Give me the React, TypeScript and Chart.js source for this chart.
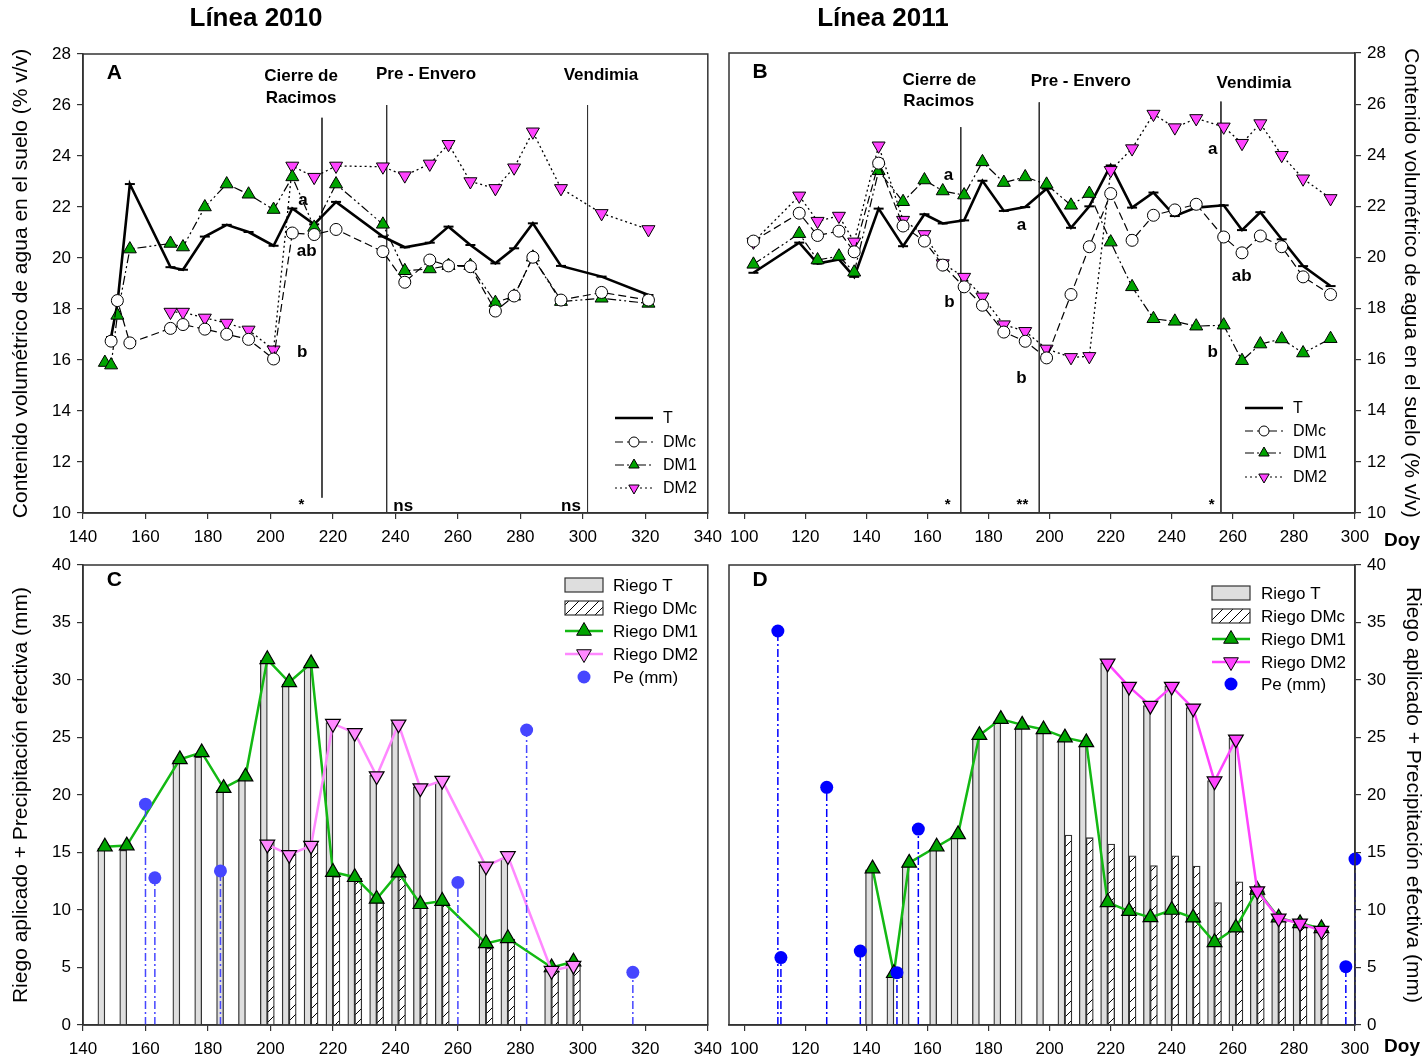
import React, { useEffect, useRef } from "react";
import { Chart, registerables } from "chart.js";

Chart.register(...registerables);

const FONT = '"Liberation Sans", Arial, Helvetica, sans-serif';

// ---------- Panel A: Línea 2010, soil water content (% v/v) ----------
const aTDays = [149, 151, 155, 168, 172, 179, 186, 193, 201, 207, 214, 221, 236, 243, 251, 257, 264, 272, 278, 284, 293, 306, 321];
const aTVals = [16.9, 18.2, 22.9, 19.64, 19.54, 20.84, 21.3, 21.02, 20.48, 21.94, 21.32, 22.2, 20.84, 20.42, 20.6, 21.23, 20.51, 19.79, 20.38, 21.36, 19.69, 19.27, 18.55];
const aDMcDays = [149, 151, 155, 168, 172, 179, 186, 193, 201, 207, 214, 221, 236, 243, 251, 257, 264, 272, 278, 284, 293, 306, 321];
const aDMcVals = [16.74, 18.33, 16.67, 17.24, 17.39, 17.21, 17.01, 16.81, 16.04, 20.98, 20.92, 21.12, 20.25, 19.05, 19.92, 19.69, 19.66, 17.92, 18.51, 20.03, 18.35, 18.65, 18.35];
const aDM1Days = [147, 149, 151, 155, 168, 172, 179, 186, 193, 201, 207, 214, 221, 236, 243, 251, 257, 264, 272, 278, 284, 293, 306, 321];
const aDM1Vals = [15.9, 15.8, 17.75, 20.35, 20.57, 20.43, 22.0, 22.9, 22.5, 21.9, 23.18, 21.2, 22.9, 21.32, 19.5, 19.57, 19.7, 19.7, 18.25, 18.5, 20.03, 18.29, 18.42, 18.22];
const aDM2Days = [168, 172, 179, 186, 193, 201, 207, 214, 221, 236, 243, 251, 257, 264, 272, 278, 284, 293, 306, 321];
const aDM2Vals = [17.88, 17.88, 17.65, 17.45, 17.18, 16.4, 23.61, 23.17, 23.61, 23.58, 23.23, 23.69, 24.46, 23.0, 22.73, 23.54, 24.95, 22.73, 21.75, 21.12];
const aPhaseDays = [216.5, 237.2, 301.5];
const aPhaseTops = [25.5, 26.0, 26.0];
const aPhaseBottoms = [10.6, 10, 10];

// ---------- Panel B: Línea 2011, soil water content (% v/v) ----------
const bDays = [103, 118, 124, 131, 136, 144, 152, 159, 165, 172, 178, 185, 192, 199, 207, 213, 220, 227, 234, 241, 248, 257, 263, 269, 276, 283, 292];
const bTVals = [19.4, 20.58, 19.76, 19.92, 19.24, 21.91, 20.44, 21.69, 21.33, 21.45, 23.0, 21.82, 21.97, 22.69, 21.16, 22.0, 23.6, 21.95, 22.54, 21.62, 21.95, 22.04, 21.07, 21.77, 20.71, 19.66, 18.88];
const bDMcVals = [20.64, 21.73, 20.86, 21.03, 20.22, 23.69, 21.23, 20.64, 19.7, 18.85, 18.13, 17.08, 16.72, 16.07, 18.55, 20.42, 22.5, 20.67, 21.65, 21.86, 22.08, 20.8, 20.18, 20.84, 20.42, 19.24, 18.55];
const bDM1Vals = [19.73, 20.93, 19.9, 20.05, 19.42, 23.39, 22.18, 23.03, 22.6, 22.44, 23.74, 22.93, 23.15, 22.86, 22.04, 22.5, 20.6, 18.85, 17.6, 17.5, 17.31, 17.35, 15.96, 16.61, 16.81, 16.26, 16.82];
const bDM2Vals = [20.61, 22.41, 21.42, 21.62, 20.61, 24.37, 21.46, 20.9, 19.76, 19.23, 18.46, 17.37, 17.11, 16.42, 16.09, 16.13, 23.41, 24.26, 25.61, 25.08, 25.44, 25.11, 24.47, 25.24, 24.0, 23.08, 22.31];
const bPhaseDays = [170.9, 196.6, 256.1];
const bPhaseTops = [25.1, 26.07, 26.1];
const bPhaseBottoms = [10, 10, 10];

// ---------- Panel C: Línea 2010, irrigation + effective rain (mm) ----------
const cDays = [147, 154, 171, 178, 185, 192, 199, 206, 213, 220, 227, 234, 241, 248, 255, 269, 276, 290, 297];
const cRiegoT = [15.36, 15.2, 23.0, 23.3, 20.4, 21.4, 31.7, 29.65, 31.25, 26.3, 25.57, 21.7, 26.3, 20.7, 21.1, 13.9, 14.5, 4.8, 5.2];
const cRiegoDM1 = [15.5, 15.6, 23.1, 23.7, 20.6, 21.6, 31.8, 29.8, 31.45, 13.3, 12.85, 10.96, 13.25, 10.5, 10.78, 7.1, 7.54, 5.0, 5.5];
const cLateDays = [199, 206, 213, 220, 227, 234, 241, 248, 255, 269, 276, 290, 297];
const cRiegoDMc = [15.9, 14.9, 15.7, 12.9, 12.75, 10.8, 13.1, 10.2, 10.6, 6.67, 7.48, 4.8, 5.3];
const cRiegoDM2 = [15.7, 14.8, 15.6, 26.2, 25.4, 21.65, 26.15, 20.6, 21.25, 13.8, 14.7, 4.72, 5.16];
const cPeDays = [160, 163, 184, 260, 282, 316];
const cPeVals = [19.2, 12.8, 13.4, 12.4, 25.65, 4.58];

// ---------- Panel D: Línea 2011, irrigation + effective rain (mm) ----------
const dDays = [142, 149, 154, 163, 170, 177, 184, 191, 198, 205, 212, 219, 226, 233, 240, 247, 254, 261, 268, 275, 282, 289];
const dRiegoT = [13.5, 4.3, 13.8, 15.3, 16.4, 24.9, 26.4, 25.8, 25.4, 24.7, 24.26, 31.5, 29.65, 27.77, 29.5, 27.6, 21.25, 24.93, 11.74, 9.2, 8.78, 8.35];
const dRiegoDM1 = [13.6, 4.5, 14.1, 15.5, 16.58, 25.2, 26.6, 26.1, 25.7, 24.99, 24.58, 10.67, 9.9, 9.36, 10.0, 9.33, 7.19, 8.46, 11.74, 9.33, 8.84, 8.4];
const dDMcDays = [205, 212, 219, 226, 233, 240, 247, 254, 261, 268, 275, 282, 289];
const dRiegoDMc = [16.52, 16.29, 15.74, 14.72, 13.86, 14.72, 13.83, 10.64, 12.46, 11.68, 9.2, 8.7, 8.26];
const dDM2Days = [219, 226, 233, 240, 247, 254, 261, 268, 275, 282, 289];
const dRiegoDM2 = [31.45, 29.42, 27.77, 29.42, 27.54, 21.2, 24.84, 11.65, 9.28, 8.84, 8.2];
const dPeDays = [111, 112, 127, 138, 150, 157, 297, 300];
const dPeVals = [34.26, 5.86, 20.67, 6.43, 4.55, 17.04, 5.07, 14.43];

// ---------- Axis ticks ----------
const ticksDoy2010 = [140, 160, 180, 200, 220, 240, 260, 280, 300, 320, 340];
const ticksDoy2011 = [100, 120, 140, 160, 180, 200, 220, 240, 260, 280, 300];
const ticksSoil = [10, 12, 14, 16, 18, 20, 22, 24, 26, 28];
const ticksMm = [0, 5, 10, 15, 20, 25, 30, 35, 40];

// ---------- Labels drawn on the panels (day, value, text) ----------
const aLabelDays = [150, 209.8, 209.8, 249.8, 305.8, 210.4, 211.6, 210.2, 209.9, 242.5, 296.2];
const aLabelVals = [27.25, 27.14, 26.27, 27.2, 27.18, 22.27, 20.27, 16.31, 10.3, 10.27, 10.27];
const aLabelTexts = ["A", "Cierre de", "Racimos", "Pre - Envero", "Vendimia", "a", "ab", "b", "*", "ns", "ns"];
const bLabelDays = [105.2, 163.9, 163.7, 210.2, 266.9, 166.9, 190.8, 167.2, 190.8, 253.4, 262.9, 253.4, 166.6, 191.1, 253.1];
const bLabelVals = [27.26, 26.94, 26.12, 26.9, 26.83, 23.22, 21.27, 18.25, 15.28, 24.24, 19.27, 16.3, 10.3, 10.3, 10.3];
const bLabelTexts = ["B", "Cierre de", "Racimos", "Pre - Envero", "Vendimia", "a", "a", "b", "b", "a", "ab", "b", "*", "**", "*"];

const GREEN_MARK = "#00a400";
const GREEN_LINE = "#13b913";
const PINK_C = "#ff88ff";
const PINK_D = "#ff44ff";
const MAGENTA = "#ff44ff";
const BLUE_C = "#4646ff";
const BLUE_D = "#0000ff";

type Pt = { x: number; y: number | null };
const pts = (days: number[], vals: number[]): Pt[] => days.map((d, i) => ({ x: d, y: vals[i] }));
const stems = (days: number[], vals: number[]): Pt[] => {
  const out: Pt[] = [];
  days.forEach((d, i) => {
    out.push({ x: d, y: 0 }, { x: d, y: vals[i] }, { x: d, y: null });
  });
  return out;
};
const vline = (day: number, top: number, bottom: number): Pt[] => [
  { x: day, y: top },
  { x: day, y: bottom },
];

// ---------- Decorations: frame, text labels, legend ----------
type TextItem = { x: number; y: number; text: string; size: number; bold: boolean; abs?: boolean };
type LegendItem = {
  label: string;
  box?: string | CanvasPattern;
  line?: { color: string; width: number; dash: number[] };
  marker?: { kind: "circle" | "up" | "down"; r: number; fill: string; stroke: string | null };
};
type LegendSpec = { sx: number; sw: number; tx: number; rows: number[]; size: number; items: LegendItem[] };

function drawMarker(ctx: CanvasRenderingContext2D, m: NonNullable<LegendItem["marker"]>, x: number, y: number) {
  ctx.save();
  ctx.setLineDash([]);
  ctx.fillStyle = m.fill;
  ctx.beginPath();
  if (m.kind === "circle") {
    ctx.arc(x, y, m.r, 0, Math.PI * 2);
  } else {
    const s = m.kind === "down" ? -1 : 1;
    for (let k = 0; k < 3; k++) {
      const a = (k * 2 * Math.PI) / 3;
      const px = x + Math.sin(a) * m.r;
      const py = y - s * Math.cos(a) * m.r;
      if (k === 0) ctx.moveTo(px, py);
      else ctx.lineTo(px, py);
    }
    ctx.closePath();
  }
  ctx.fill();
  if (m.stroke) {
    ctx.strokeStyle = m.stroke;
    ctx.lineWidth = 1;
    ctx.stroke();
  }
  ctx.restore();
}

function makeDecor(texts: TextItem[], legend: LegendSpec) {
  return {
    id: "decor",
    afterDraw(chart: any) {
      const { ctx, chartArea } = chart;
      const xs = chart.scales.x;
      const ys = chart.scales.y;
      ctx.save();
      ctx.strokeStyle = "#333";
      ctx.lineWidth = 1.5;
      ctx.setLineDash([]);
      ctx.strokeRect(chartArea.left, chartArea.top, chartArea.right - chartArea.left, chartArea.bottom - chartArea.top);

      ctx.fillStyle = "#000";
      ctx.textAlign = "center";
      ctx.textBaseline = "middle";
      for (const t of texts) {
        ctx.font = `${t.bold ? "bold " : ""}${t.size}px ${FONT}`;
        const px = t.abs ? t.x : xs.getPixelForValue(t.x);
        const py = t.abs ? t.y : ys.getPixelForValue(t.y);
        ctx.fillText(t.text, px, py);
      }

      ctx.textAlign = "left";
      ctx.font = `${legend.size}px ${FONT}`;
      legend.items.forEach((it, i) => {
        const y = legend.rows[i];
        const { sx, sw } = legend;
        if (it.box) {
          ctx.fillStyle = it.box as any;
          ctx.fillRect(sx, y - 7, sw, 14);
          ctx.strokeStyle = "#333";
          ctx.lineWidth = 1.2;
          ctx.setLineDash([]);
          ctx.strokeRect(sx, y - 7, sw, 14);
        }
        if (it.line) {
          ctx.strokeStyle = it.line.color;
          ctx.lineWidth = it.line.width;
          ctx.setLineDash(it.line.dash);
          ctx.beginPath();
          ctx.moveTo(sx, y);
          ctx.lineTo(sx + sw, y);
          ctx.stroke();
          ctx.setLineDash([]);
        }
        if (it.marker) drawMarker(ctx, it.marker, sx + sw / 2, y);
        ctx.fillStyle = "#000";
        ctx.fillText(it.label, legend.tx, y + 1);
      });
      ctx.restore();
    },
  };
}

function toTexts(days: number[], vals: number[], labels: string[]): TextItem[] {
  return labels.map((text, i) => {
    const isPanel = /^[A-D]$/.test(text);
    const isStar = text.startsWith("*");
    return {
      x: days[i],
      y: vals[i],
      text,
      size: isPanel ? 21 : isStar ? 15 : 17,
      bold: true,
    };
  });
}

function hatchPattern(ctx: CanvasRenderingContext2D): CanvasPattern {
  const c = document.createElement("canvas");
  c.width = 10;
  c.height = 10;
  const g = c.getContext("2d")!;
  g.fillStyle = "#fff";
  g.fillRect(0, 0, 10, 10);
  g.strokeStyle = "#000";
  g.lineWidth = 1;
  g.beginPath();
  g.moveTo(0, 10);
  g.lineTo(10, 0);
  g.moveTo(-1, 1);
  g.lineTo(1, -1);
  g.moveTo(9, 11);
  g.lineTo(11, 9);
  g.stroke();
  return ctx.createPattern(c, "repeat")!;
}

const tickFont = { family: FONT, size: 17 };
const axisBase = {
  grid: { drawOnChartArea: false, tickLength: 6, color: "#333", lineWidth: 1.2 },
  border: { color: "#333", width: 1.5 },
};

function xAxis(min: number, max: number, ticks: number[], height: number) {
  return {
    type: "linear",
    min,
    max,
    offset: false,
    afterBuildTicks: (s: any) => {
      s.ticks = ticks.map((v) => ({ value: v }));
    },
    afterFit: (s: any) => {
      s.height = height;
    },
    ticks: { font: tickFont, color: "#000", padding: 8, maxRotation: 0, autoSkip: false },
    ...axisBase,
    grid: { ...axisBase.grid, offset: false },
  };
}

function yAxis(min: number, max: number, ticks: number[], right: boolean, width: number, title: string, titlePad: number) {
  return {
    type: "linear",
    position: right ? "right" : "left",
    min,
    max,
    afterBuildTicks: (s: any) => {
      s.ticks = ticks.map((v) => ({ value: v }));
    },
    afterFit: (s: any) => {
      s.width = width;
    },
    ticks: { font: tickFont, color: "#000", padding: 6, autoSkip: false },
    title: {
      display: true,
      text: title,
      color: "#000",
      font: { family: FONT, size: 21 },
      padding: { top: titlePad, bottom: 0 },
    },
    ...axisBase,
  };
}

const SOIL_TITLE = "Contenido volumétrico de agua en el suelo (% v/v)";
const MM_TITLE = "Riego aplicado + Precipitación efectiva (mm)";

function soilLegend(sx: number, tx: number, rows: number[]): LegendSpec {
  return {
    sx,
    sw: 38,
    tx,
    rows,
    size: 16,
    items: [
      { label: "T", line: { color: "#000", width: 2.5, dash: [] } },
      { label: "DMc", line: { color: "#000", width: 1.2, dash: [8, 4] }, marker: { kind: "circle", r: 5, fill: "#fff", stroke: "#000" } },
      { label: "DM1", line: { color: "#000", width: 1.2, dash: [9, 3, 2, 3, 2, 3] }, marker: { kind: "up", r: 6, fill: GREEN_MARK, stroke: "#000" } },
      { label: "DM2", line: { color: "#000", width: 1.2, dash: [2, 3] }, marker: { kind: "down", r: 6, fill: MAGENTA, stroke: "#000" } },
    ],
  };
}

function soilDatasets(t: Pt[], dmc: Pt[], dm1: Pt[], dm2: Pt[], phases: Pt[][]) {
  const common = { tension: 0, pointBorderColor: "#000", pointBorderWidth: 1, borderColor: "#000", clip: false };
  return [
    { ...common, label: "DMc", data: dmc, borderWidth: 1.2, borderDash: [8, 4], pointStyle: "circle", pointRadius: 6, pointBackgroundColor: "#fff" },
    { ...common, label: "DM1", data: dm1, borderWidth: 1.2, borderDash: [9, 3, 2, 3, 2, 3], pointStyle: "triangle", pointRadius: 7.5, pointBackgroundColor: GREEN_MARK },
    { ...common, label: "DM2", data: dm2, borderWidth: 1.3, borderDash: [2, 3], pointStyle: "triangle", pointRotation: 180, pointRadius: 7.5, pointBackgroundColor: MAGENTA },
    { ...common, label: "T", data: t, borderWidth: 2.6, pointStyle: "line", pointRadius: 5, pointBorderWidth: 2 },
    ...phases.map((p, i) => ({ label: `fase ${i + 1}`, data: p, borderColor: "#333", borderWidth: 1, pointRadius: 0 })),
  ];
}

function soilConfig(opts: {
  xMin: number; xMax: number; xTicks: number[]; right: boolean; padLeft: number; padRight: number; padTop: number;
  yWidth: number; titlePad: number; datasets: any[]; decor: any;
}) {
  return {
    type: "line",
    data: { datasets: opts.datasets },
    options: {
      responsive: false,
      animation: false,
      events: [],
      layout: { padding: { left: opts.padLeft, right: opts.padRight, top: opts.padTop, bottom: 0 } },
      plugins: { legend: { display: false }, tooltip: { enabled: false } },
      scales: {
        x: xAxis(opts.xMin, opts.xMax, opts.xTicks, 42),
        y: yAxis(10, 28, ticksSoil, opts.right, opts.yWidth, SOIL_TITLE, opts.titlePad),
      },
    },
    plugins: [opts.decor],
  };
}

function riegoConfig(opts: {
  xMin: number; xMax: number; xTicks: number[]; right: boolean; padLeft: number; padRight: number;
  yWidth: number; titlePad: number; pink: string; blue: string;
  tDays: number[]; tVals: number[]; dmcDays: number[]; dmcVals: number[];
  dm1Days: number[]; dm1Vals: number[]; dm2Days: number[]; dm2Vals: number[];
  peDays: number[]; peVals: number[]; hatch: CanvasPattern; decor: any;
}) {
  return {
    type: "bar",
    data: {
      datasets: [
        { type: "line", label: "Pe (mm)", data: pts(opts.peDays, opts.peVals), showLine: false, clip: false, pointRadius: 6.5, pointBackgroundColor: opts.blue, pointBorderWidth: 0, pointBorderColor: opts.blue },
        { type: "line", label: "Pe stems", data: stems(opts.peDays, opts.peVals), clip: false, borderColor: opts.blue, borderWidth: 1.5, borderDash: [8, 3, 2, 3], pointRadius: 0, spanGaps: false },
        { type: "line", label: "Riego DM2", data: pts(opts.dm2Days, opts.dm2Vals), clip: false, borderColor: opts.pink, borderWidth: 2.5, tension: 0, pointStyle: "triangle", pointRotation: 180, pointRadius: 8.5, pointBackgroundColor: opts.pink, pointBorderColor: "#000", pointBorderWidth: 1.2 },
        { type: "line", label: "Riego DM1", data: pts(opts.dm1Days, opts.dm1Vals), clip: false, borderColor: GREEN_LINE, borderWidth: 2.5, tension: 0, pointStyle: "triangle", pointRadius: 8.5, pointBackgroundColor: GREEN_MARK, pointBorderColor: "#000", pointBorderWidth: 1.2 },
        { type: "bar", label: "Riego T", data: pts(opts.tDays, opts.tVals), backgroundColor: "#dedede", borderColor: "#333", borderWidth: 1.3, barThickness: 7 },
        { type: "bar", label: "Riego DMc", data: pts(opts.dmcDays, opts.dmcVals), backgroundColor: opts.hatch, borderColor: "#333", borderWidth: 1.3, barThickness: 7 },
      ],
    },
    options: {
      responsive: false,
      animation: false,
      events: [],
      layout: { padding: { left: opts.padLeft, right: opts.padRight, top: 25, bottom: 0 } },
      plugins: { legend: { display: false }, tooltip: { enabled: false } },
      scales: {
        x: xAxis(opts.xMin, opts.xMax, opts.xTicks, 37),
        y: yAxis(0, 40, ticksMm, opts.right, opts.yWidth, MM_TITLE, opts.titlePad),
      },
    },
    plugins: [opts.decor],
  };
}

function riegoLegend(sx: number, tx: number, rows: number[], pink: string, blue: string, hatch: CanvasPattern): LegendSpec {
  return {
    sx,
    sw: 38,
    tx,
    rows,
    size: 17,
    items: [
      { label: "Riego T", box: "#dedede" },
      { label: "Riego DMc", box: hatch },
      { label: "Riego DM1", line: { color: GREEN_LINE, width: 2.5, dash: [] }, marker: { kind: "up", r: 8.5, fill: GREEN_MARK, stroke: "#000" } },
      { label: "Riego DM2", line: { color: pink, width: 2.5, dash: [] }, marker: { kind: "down", r: 8.5, fill: pink, stroke: "#000" } },
      { label: "Pe (mm)", marker: { kind: "circle", r: 6.5, fill: blue, stroke: null } },
    ],
  };
}

type Builder = (ctx: CanvasRenderingContext2D) => any;

function Panel({ left, top, width, height, build }: { left: number; top: number; width: number; height: number; build: Builder }) {
  const ref = useRef<HTMLCanvasElement>(null);
  useEffect(() => {
    const canvas = ref.current!;
    const chart = new Chart(canvas, build(canvas.getContext("2d")!));
    return () => chart.destroy();
  }, []);
  return <canvas ref={ref} width={width} height={height} style={{ position: "absolute", left, top, width, height }} />;
}

const buildA: Builder = () =>
  soilConfig({
    xMin: 140, xMax: 340, xTicks: ticksDoy2010, right: false, padLeft: 0, padRight: 22, padTop: 54, yWidth: 83, titlePad: 9,
    datasets: soilDatasets(pts(aTDays, aTVals), pts(aDMcDays, aDMcVals), pts(aDM1Days, aDM1Vals), pts(aDM2Days, aDM2Vals),
      aPhaseDays.map((d, i) => vline(d, aPhaseTops[i], aPhaseBottoms[i]))),
    decor: makeDecor(
      [...toTexts(aLabelDays, aLabelVals, aLabelTexts), { x: 256, y: 19, text: "Línea 2010", size: 26, bold: true, abs: true }],
      soilLegend(615, 663, [418, 442, 465, 488])
    ),
  });

const buildB: Builder = () =>
  soilConfig({
    xMin: 95, xMax: 300, xTicks: ticksDoy2011, right: true, padLeft: 17, padRight: 0, padTop: 53, yWidth: 70, titlePad: 2,
    datasets: soilDatasets(pts(bDays, bTVals), pts(bDays, bDMcVals), pts(bDays, bDM1Vals), pts(bDays, bDM2Vals),
      bPhaseDays.map((d, i) => vline(d, bPhaseTops[i], bPhaseBottoms[i]))),
    decor: makeDecor(
      [
        ...toTexts(bLabelDays, bLabelVals, bLabelTexts),
        { x: 171, y: 19, text: "Línea 2011", size: 26, bold: true, abs: true },
        { x: 690, y: 541, text: "Doy", size: 19, bold: true, abs: true },
      ],
      soilLegend(533, 581, [408, 431, 453, 477])
    ),
  });

const buildC: Builder = (ctx) => {
  const hatch = hatchPattern(ctx);
  return riegoConfig({
    xMin: 140, xMax: 340, xTicks: ticksDoy2010, right: false, padLeft: 0, padRight: 22, yWidth: 83, titlePad: 9,
    pink: PINK_C, blue: BLUE_C,
    tDays: cDays, tVals: cRiegoT, dmcDays: cLateDays, dmcVals: cRiegoDMc,
    dm1Days: cDays, dm1Vals: cRiegoDM1, dm2Days: cLateDays, dm2Vals: cRiegoDM2,
    peDays: cPeDays, peVals: cPeVals, hatch,
    decor: makeDecor(
      [{ x: 150, y: 38.7, text: "C", size: 21, bold: true }],
      riegoLegend(565, 613, [45, 68, 91, 114, 137], PINK_C, BLUE_C, hatch)
    ),
  });
};

const buildD: Builder = (ctx) => {
  const hatch = hatchPattern(ctx);
  return riegoConfig({
    xMin: 95, xMax: 300, xTicks: ticksDoy2011, right: true, padLeft: 17, padRight: 0, yWidth: 70, titlePad: 0,
    pink: PINK_D, blue: BLUE_D,
    tDays: dDays, tVals: dRiegoT, dmcDays: dDMcDays, dmcVals: dRiegoDMc,
    dm1Days: dDays, dm1Vals: dRiegoDM1, dm2Days: dDM2Days, dm2Vals: dRiegoDM2,
    peDays: dPeDays, peVals: dPeVals, hatch,
    decor: makeDecor(
      [
        { x: 105.2, y: 38.7, text: "D", size: 21, bold: true },
        { x: 690, y: 507, text: "Doy", size: 19, bold: true, abs: true },
      ],
      riegoLegend(500, 549, [53, 76, 99, 122, 144], PINK_D, BLUE_D, hatch)
    ),
  });
};

export default function App() {
  useEffect(() => {
    document.body.style.margin = "0";
  }, []);
  return (
    <div style={{ position: "relative", width: 1425, height: 1062, background: "#fff", overflow: "hidden" }}>
      <Panel left={0} top={0} width={730} height={555} build={buildA} />
      <Panel left={712} top={0} width={713} height={555} build={buildB} />
      <Panel left={0} top={540} width={730} height={522} build={buildC} />
      <Panel left={712} top={540} width={713} height={522} build={buildD} />
    </div>
  );
}
